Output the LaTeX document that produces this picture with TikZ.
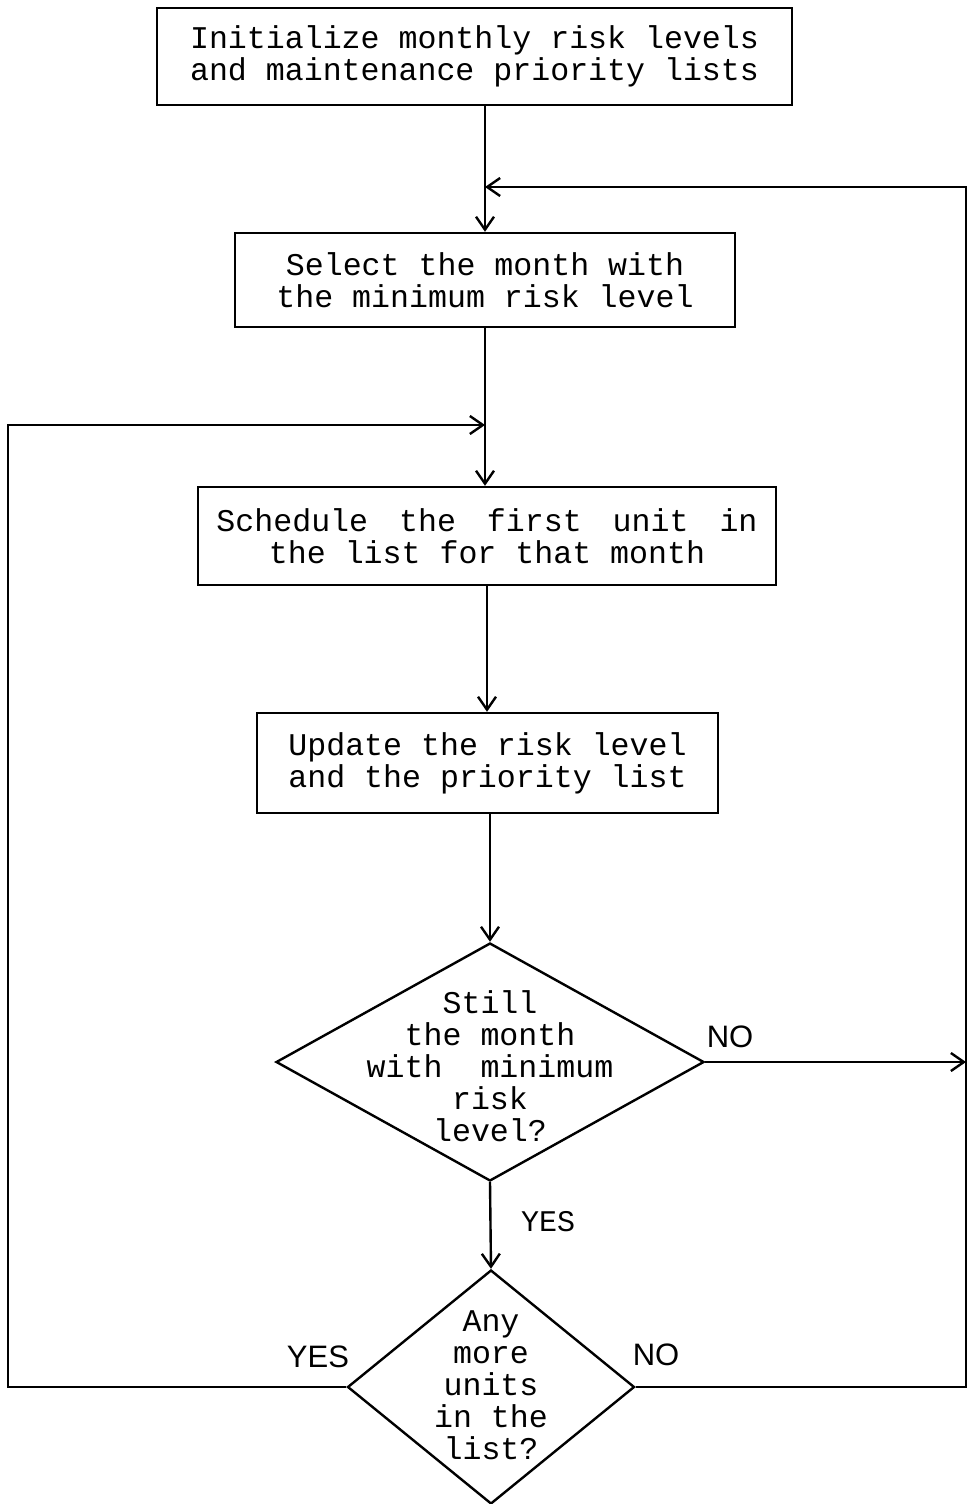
\documentclass[tikz,border=0pt]{standalone}
\usepackage{fontspec}
\setmonofont{Liberation Mono}
\newfontfamily\labsans{Liberation Sans}
\usetikzlibrary{arrows.meta,shapes.geometric}
\begin{document}
\begin{tikzpicture}[x=0.5pt,y=-0.5pt,
  line width=1.2pt,
  box/.style={draw,rectangle,inner sep=0pt,align=center,font=\ttfamily\fontsize{15.8}{16}\selectfont},
  dia/.style={draw,diamond,inner sep=0pt},
  dtext/.style={align=center,inner sep=0pt,font=\ttfamily\fontsize{15.8}{16}\selectfont},
  lab/.style={inner sep=0pt,font=\labsans\fontsize{15.5}{16}\selectfont},
  monolab/.style={inner sep=0pt,font=\ttfamily\fontsize{15}{16}\selectfont},
  arr/.style={-{Straight Barb[length=6.5pt,width=9pt]}}]
\useasboundingbox (0,0) rectangle (970,1504);

\node[box,minimum width=317.5pt,minimum height=48.5pt] (b1) at (474.5,56.5)
  {Initialize monthly risk levels\\and maintenance priority lists};
\node[box,minimum width=250pt,minimum height=47pt] (b2) at (485,280)
  {Select the month with\\the minimum risk level};
\node[box,minimum width=289pt,minimum height=49pt] (b3) at (487,536)
  {Schedule\hspace{6pt} the\hspace{6pt} first\hspace{6pt} unit\hspace{6pt} in\\the list for that month};
\node[box,minimum width=230.5pt,minimum height=50pt] (b4) at (487.5,763)
  {Update the risk level\\and the priority list};

\node[dia,minimum width=214pt,minimum height=119pt] (d1) at (490,1062) {};
\node[dtext] (t1) at (490,1066) {Still\\the month\\with\ \ minimum\\risk\\level?};
\node[dia,minimum width=143.5pt,minimum height=117pt] (d2) at (491,1387) {};
\node[dtext] (t2) at (491,1385) {Any\\more\\units\\in the\\list?};

\node[lab] (no1) at (730,1037) {NO};
\node[monolab] (yes1) at (548,1222) {YES};
\node[lab] (yes2) at (318,1357) {YES};
\node[lab] (no2) at (656,1355) {NO};

\coordinate (m1) at (485,187);
\coordinate (m2) at (485,425);
\coordinate (rt) at (966,187);
\coordinate (rb) at (966,1387);
\coordinate (lt) at (8,425);
\coordinate (lb) at (8,1387);

\draw[arr] (b1.south -| m1) -- (b2.north -| m1);
\draw[arr] (b2.south -| m2) -- (b3.north -| m2);
\draw[arr] (b3.south) -- (b3.south |- b4.north);
\draw[arr] (d1.north |- b4.south) -- (d1.north);
\draw[arr] (d1.south) -- (d2.north);
\draw[arr] (d1.east) -- (d1.east -| rb);
\draw[arr] (d2.east) -- (rb) -- (rt) -- (m1);
\draw[arr] (d2.west) -- (lb) -- (lt) -- (m2);
\end{tikzpicture}
\end{document}
